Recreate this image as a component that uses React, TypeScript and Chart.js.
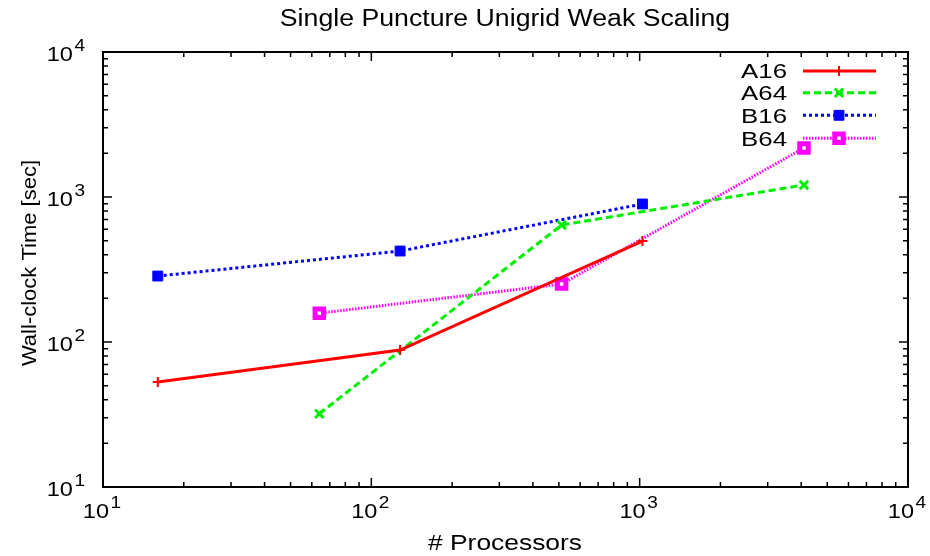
import React, { useEffect, useRef } from "react";
import { Chart, registerables, PointElement } from "chart.js";

Chart.register(...registerables);

const title = "Single Puncture Unigrid Weak Scaling";
const xTitle = "# Processors";
const yTitle = "Wall-clock Time [sec]";
const seriesNames = ["A16", "A64", "B16", "B64"];
const xA16 = [16, 128, 1024];
const yA16 = [53, 88, 497];
const xA64 = [64, 512, 4096];
const yA64 = [32, 641, 1210];
const xB16 = [16, 128, 1024];
const yB16 = [285, 424, 895];
const xB64 = [64, 512, 4096];
const yB64 = [158, 251, 2178];
const xDecades = [1, 2, 3, 4];
const yDecades = [1, 2, 3, 4];

const FONT = "'Liberation Sans', Arial, Helvetica, sans-serif";

const pts = (xs: number[], ys: number[]) => xs.map((x, i) => ({ x, y: ys[i] }));

function textW(ctx: CanvasRenderingContext2D, text: string, size: number, stretch: number) {
  ctx.save();
  ctx.font = `${size}px ${FONT}`;
  const w = ctx.measureText(text).width * stretch;
  ctx.restore();
  return w;
}

function drawText(
  ctx: CanvasRenderingContext2D,
  text: string,
  x: number,
  y: number,
  size: number,
  stretch: number,
  align: "left" | "center" | "right",
  rot = 0
) {
  ctx.save();
  ctx.translate(x, y);
  if (rot) ctx.rotate(rot);
  ctx.scale(stretch, 1);
  ctx.font = `${size}px ${FONT}`;
  ctx.fillStyle = "#000";
  ctx.textAlign = align;
  ctx.textBaseline = "alphabetic";
  ctx.fillText(text, 0, 0);
  ctx.restore();
}

const TS = 1.12;
function powWidth(ctx: CanvasRenderingContext2D, exp: number) {
  return textW(ctx, "10", 21, TS) + 1.5 + textW(ctx, String(exp), 17, TS);
}
function drawPow(ctx: CanvasRenderingContext2D, exp: number, left: number, baseline: number) {
  const wb = textW(ctx, "10", 21, TS);
  drawText(ctx, "10", left, baseline, 21, TS, "left");
  drawText(ctx, String(exp), left + wb + 1.5, baseline - 10, 17, TS, "left");
}

const decorPlugin = {
  id: "decor",
  afterDraw(chart: any) {
    const ctx: CanvasRenderingContext2D = chart.ctx;
    const { left, right, top, bottom } = chart.chartArea;
    const xs = chart.scales.x;
    const ys = chart.scales.y;
    ctx.save();
    ctx.strokeStyle = "#000";
    ctx.lineWidth = 2;
    ctx.strokeRect(left, top, right - left, bottom - top);
    ctx.lineWidth = 1.5;
    for (let d = 1; d <= 4; d++) {
      for (let m = 1; m <= 9; m++) {
        const v = m * Math.pow(10, d);
        if (v > 10000) break;
        const len = m === 1 ? 9 : 5;
        const px = xs.getPixelForValue(v);
        ctx.beginPath();
        ctx.moveTo(px, bottom);
        ctx.lineTo(px, bottom - len);
        ctx.moveTo(px, top);
        ctx.lineTo(px, top + len);
        ctx.stroke();
        const py = ys.getPixelForValue(v);
        ctx.beginPath();
        ctx.moveTo(left, py);
        ctx.lineTo(left + len, py);
        ctx.moveTo(right, py);
        ctx.lineTo(right - len, py);
        ctx.stroke();
      }
    }
    xDecades.forEach((e) => {
      const w = powWidth(ctx, e);
      drawPow(ctx, e, xs.getPixelForValue(Math.pow(10, e)) - 1 - w / 2, 518);
    });
    yDecades.forEach((e) => {
      const w = powWidth(ctx, e);
      drawPow(ctx, e, 85 - w, ys.getPixelForValue(Math.pow(10, e)) + 9);
    });
    drawText(ctx, title, 505, 26, 23, 1.16, "center");
    drawText(ctx, xTitle, 505, 550, 22, 1.2, "center");
    drawText(ctx, yTitle, 36, 263, 20, 1.1, "center", -Math.PI / 2);
    const rowY = [71, 92.7, 115.3, 138.3];
    chart.data.datasets.forEach((ds: any, i: number) => {
      const y = rowY[i];
      drawText(ctx, ds.label, 787, y + 7.3, 20, 1.29, "right");
      ctx.save();
      ctx.strokeStyle = ds.borderColor;
      ctx.lineWidth = ds.borderWidth;
      ctx.setLineDash(ds.borderDash || []);
      ctx.beginPath();
      ctx.moveTo(803, y);
      ctx.lineTo(876, y);
      ctx.stroke();
      ctx.restore();
      const p: any = new (PointElement as any)({
        x: 839,
        y,
        options: {
          pointStyle: ds.pointStyle,
          radius: ds.pointRadius,
          borderWidth: ds.pointBorderWidth,
          backgroundColor: ds.backgroundColor,
          borderColor: ds.borderColor,
          rotation: 0,
        },
      });
      ctx.save();
      ctx.setLineDash([]);
      p.draw(ctx);
      ctx.restore();
    });
    ctx.restore();
  },
};

export default function App() {
  const ref = useRef<HTMLCanvasElement>(null);
  useEffect(() => {
    document.body.style.margin = "0";
    const chart = new Chart(ref.current!, {
      type: "line",
      data: {
        datasets: [
          {
            label: seriesNames[0],
            data: pts(xA16, yA16),
            borderColor: "#ff0000",
            backgroundColor: "#ff0000",
            borderWidth: 3,
            pointStyle: "cross",
            pointRadius: 5,
            pointBorderWidth: 2,
          },
          {
            label: seriesNames[1],
            data: pts(xA64, yA64),
            borderColor: "#00ee00",
            backgroundColor: "#00ee00",
            borderWidth: 3,
            borderDash: [7, 4],
            pointStyle: "crossRot",
            pointRadius: 6,
            pointBorderWidth: 3,
          },
          {
            label: seriesNames[2],
            data: pts(xB16, yB16),
            borderColor: "#0000ff",
            backgroundColor: "#0000ff",
            borderWidth: 3,
            borderDash: [3, 3],
            pointStyle: "rect",
            pointRadius: 7,
            pointBorderWidth: 1,
          },
          {
            label: seriesNames[3],
            data: pts(xB64, yB64),
            borderColor: "#ff00ff",
            backgroundColor: "#ffffff",
            borderWidth: 3,
            borderDash: [1.5, 1.5],
            pointStyle: "rect",
            pointRadius: 6,
            pointBorderWidth: 5,
          },
        ] as any,
      },
      options: {
        animation: false,
        responsive: false,
        layout: { padding: { top: 52, right: 22, left: 0, bottom: 0 } },
        plugins: { legend: { display: false }, title: { display: false }, tooltip: { enabled: false } },
        scales: {
          x: {
            type: "logarithmic",
            min: 10,
            max: 10000,
            grid: { display: false },
            border: { display: false },
            ticks: { display: false },
            afterFit: (s: any) => { s.height = 69; },
          },
          y: {
            type: "logarithmic",
            min: 10,
            max: 10000,
            grid: { display: false },
            border: { display: false },
            ticks: { display: false },
            afterFit: (s: any) => { s.width = 103; },
          },
        },
      } as any,
      plugins: [decorPlugin],
    });
    return () => chart.destroy();
  }, []);
  return (
    <div style={{ width: 930, height: 556 }}>
      <canvas ref={ref} width={930} height={556} style={{ display: "block" }} />
    </div>
  );
}
